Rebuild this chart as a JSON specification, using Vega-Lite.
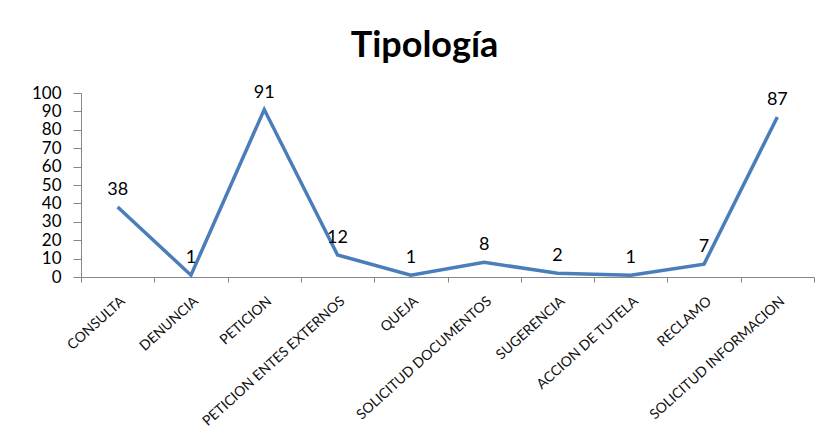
{
  "$schema": "https://vega.github.io/schema/vega-lite/v6.json",
  "width": 733,
  "height": 184,
  "autosize": {"type": "none"},
  "padding": {"left": 81, "top": 93, "right": 11, "bottom": 164},
  "background": "white",
  "config": {
    "view": {"stroke": null},
    "font": "Lato"
  },
  "title": {
    "text": "Tipología",
    "font": "Lato",
    "fontSize": 36,
    "fontWeight": "bold",
    "color": "#000000",
    "frame": "group",
    "anchor": "middle",
    "baseline": "alphabetic",
    "offset": -9,
    "dx": -23
  },
  "data": {
    "values": [
      {"tipo": "CONSULTA", "cantidad": 38},
      {"tipo": "DENUNCIA", "cantidad": 1},
      {"tipo": "PETICION", "cantidad": 91},
      {"tipo": "PETICION ENTES EXTERNOS", "cantidad": 12},
      {"tipo": "QUEJA", "cantidad": 1},
      {"tipo": "SOLICITUD DOCUMENTOS", "cantidad": 8},
      {"tipo": "SUGERENCIA", "cantidad": 2},
      {"tipo": "ACCION DE TUTELA", "cantidad": 1},
      {"tipo": "RECLAMO", "cantidad": 7},
      {"tipo": "SOLICITUD INFORMACION", "cantidad": 87}
    ]
  },
  "encoding": {
    "x": {
      "field": "tipo",
      "type": "nominal",
      "sort": null,
      "scale": {"type": "band", "paddingInner": 0, "paddingOuter": 0},
      "axis": {
        "title": null,
        "labelAngle": -42,
        "labelAlign": "right",
        "labelBaseline": "middle",
        "labelFont": "Lato",
        "labelFontSize": 14,
        "labelColor": "#111111",
        "labelOffset": 5,
        "labelPadding": 17,
        "labelLimit": 300,
        "tickBand": "extent",
        "tickSize": 5,
        "tickColor": "#868686",
        "domainColor": "#868686",
        "domainWidth": 1,
        "grid": false
      }
    },
    "y": {
      "field": "cantidad",
      "type": "quantitative",
      "scale": {"domain": [0, 100], "nice": false},
      "axis": {
        "title": null,
        "values": [0, 10, 20, 30, 40, 50, 60, 70, 80, 90, 100],
        "labelFont": "Lato",
        "labelFontSize": 17,
        "labelColor": "#000000",
        "labelPadding": 12,
        "labelOverlap": false,
        "tickSize": 8,
        "tickColor": "#868686",
        "domainColor": "#868686",
        "grid": false
      }
    }
  },
  "layer": [
    {
      "mark": {"type": "line", "color": "#4a7ebb", "strokeWidth": 3.5}
    },
    {
      "mark": {"type": "text", "dy": -17, "fontSize": 18, "font": "Lato", "color": "#000000"},
      "encoding": {"text": {"field": "cantidad", "type": "quantitative"}}
    }
  ]
}
